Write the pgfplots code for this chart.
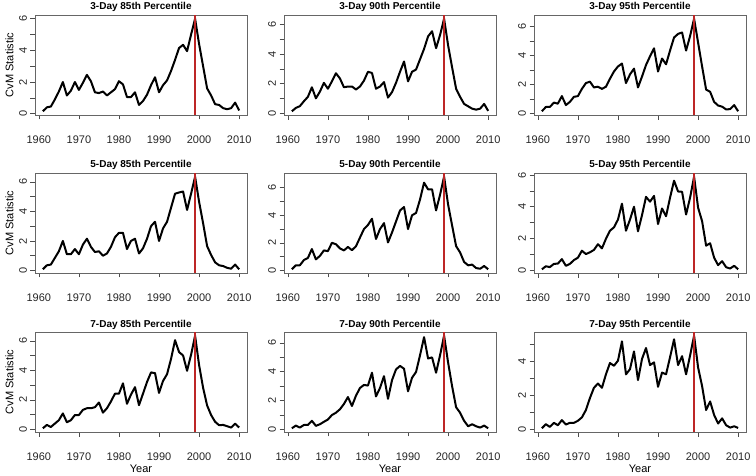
\documentclass[border=0pt]{standalone}
\usepackage{pgfplots}
\usepackage{pgfplotstable}
\pgfplotsset{compat=1.18}
\usepackage{fontspec}
\setmainfont{Liberation Sans}
\definecolor{cpred}{rgb}{0.74,0.15,0.15}

\pgfplotstableread{
year p85 p90 p95
1961 0.15 0.12 0.15
1962 0.40 0.35 0.45
1963 0.45 0.47 0.45
1964 0.90 0.80 0.75
1965 1.40 1.10 0.68
1966 2.00 1.75 1.20
1967 1.15 1.00 0.58
1968 1.45 1.45 0.80
1969 2.00 2.05 1.15
1970 1.50 1.65 1.20
1971 1.95 2.15 1.70
1972 2.45 2.70 2.10
1973 2.05 2.35 2.20
1974 1.35 1.75 1.80
1975 1.30 1.80 1.85
1976 1.40 1.80 1.70
1977 1.15 1.60 1.85
1978 1.35 1.80 2.40
1979 1.55 2.20 2.90
1980 2.05 2.80 3.25
1981 1.85 2.72 3.45
1982 1.05 1.65 2.10
1983 1.05 1.80 2.70
1984 1.35 2.10 3.10
1985 0.55 1.05 1.80
1986 0.80 1.42 2.55
1987 1.20 2.05 3.35
1988 1.80 2.80 3.95
1989 2.30 3.50 4.50
1990 1.35 2.15 2.90
1991 1.80 2.80 3.80
1992 2.10 2.95 3.40
1993 2.70 3.65 4.35
1994 3.40 4.35 5.25
1995 4.15 5.20 5.50
1996 4.35 5.55 5.60
1997 3.95 4.40 4.35
1998 5.00 5.30 5.35
1999 6.00 6.40 6.55
2000 4.40 4.60 4.90
2001 3.00 3.10 3.25
2002 1.60 1.65 1.65
2003 1.15 1.10 1.50
2004 0.60 0.62 0.80
2005 0.55 0.46 0.55
2006 0.35 0.30 0.47
2007 0.28 0.23 0.28
2008 0.35 0.30 0.30
2009 0.70 0.62 0.58
2010 0.20 0.15 0.15
}\threeday

\pgfplotstableread{
year p85 p90 p95
1961 0.08 0.08 0.06
1962 0.35 0.37 0.25
1963 0.40 0.37 0.20
1964 0.85 0.75 0.40
1965 1.30 0.90 0.42
1966 2.00 1.55 0.70
1967 1.10 0.80 0.28
1968 1.10 1.05 0.40
1969 1.45 1.45 0.64
1970 1.10 1.40 0.79
1971 1.75 2.00 1.23
1972 2.15 1.90 1.02
1973 1.60 1.60 1.13
1974 1.25 1.45 1.28
1975 1.30 1.70 1.64
1976 1.00 1.47 1.38
1977 1.15 1.75 1.98
1978 1.60 2.38 2.49
1979 2.25 3.00 2.70
1980 2.55 3.30 3.19
1981 2.55 3.75 4.19
1982 1.45 2.28 2.49
1983 2.00 3.00 3.19
1984 2.15 3.43 4.00
1985 1.15 2.03 2.45
1986 1.50 2.75 3.47
1987 2.15 3.55 4.62
1988 3.00 4.35 4.32
1989 3.30 4.60 4.68
1990 2.00 3.00 2.91
1991 2.85 4.00 3.89
1992 3.30 4.17 3.40
1993 4.25 5.15 4.57
1994 5.20 6.37 5.64
1995 5.28 5.88 4.96
1996 5.35 5.88 4.94
1997 4.10 4.35 3.51
1998 5.20 5.50 4.57
1999 6.35 6.80 5.89
2000 4.65 4.78 3.94
2001 3.20 3.26 3.09
2002 1.65 1.76 1.55
2003 1.05 1.30 1.70
2004 0.55 0.61 0.79
2005 0.35 0.37 0.32
2006 0.30 0.42 0.57
2007 0.18 0.17 0.19
2008 0.12 0.12 0.11
2009 0.40 0.32 0.28
2010 0.08 0.08 0.06
}\fiveday

\pgfplotstableread{
year p85 p90 p95
1961 0.07 0.07 0.08
1962 0.30 0.26 0.32
1963 0.16 0.12 0.16
1964 0.39 0.30 0.40
1965 0.62 0.30 0.26
1966 1.08 0.59 0.56
1967 0.48 0.24 0.30
1968 0.62 0.35 0.40
1969 0.97 0.52 0.40
1970 0.97 0.68 0.52
1971 1.32 0.99 0.72
1972 1.43 1.15 1.15
1973 1.43 1.39 1.85
1974 1.50 1.76 2.45
1975 1.82 2.24 2.70
1976 1.13 1.62 2.45
1977 1.43 2.33 3.24
1978 1.89 2.87 3.90
1979 2.42 3.08 3.74
1980 2.42 3.04 4.04
1981 3.12 3.93 5.17
1982 1.73 2.28 3.24
1983 2.36 2.87 3.54
1984 2.86 3.69 4.58
1985 1.64 2.12 2.90
1986 2.42 3.41 4.14
1987 3.21 4.16 4.78
1988 3.86 4.40 3.78
1989 3.81 4.21 3.94
1990 2.47 2.64 2.51
1991 3.28 3.58 3.34
1992 3.74 3.98 3.24
1993 4.78 5.15 4.24
1994 6.05 6.40 5.29
1995 5.24 4.92 3.78
1996 5.01 4.99 4.30
1997 3.97 3.93 3.24
1998 5.06 5.15 4.34
1999 6.35 6.50 5.50
2000 4.36 4.64 3.64
2001 2.82 2.99 2.55
2002 1.62 1.53 1.15
2003 0.97 1.15 1.65
2004 0.51 0.59 0.86
2005 0.28 0.21 0.36
2006 0.30 0.35 0.66
2007 0.21 0.21 0.26
2008 0.12 0.12 0.12
2009 0.39 0.26 0.20
2010 0.12 0.07 0.10
}\sevenday

\pgfplotsset{
  panel/.style={
    scale only axis, width=212pt, height=100pt, anchor=north west,
    enlarge x limits=0.04, enlarge y limits=0.04,
    xtick={1960,1970,...,2010},
    ytick={0,2,4,6}, minor ytick={1,3,5},
    tick align=outside,
    major tick length=4.5pt, minor tick length=4.5pt,
    xtick pos=bottom, ytick pos=left,
    every tick/.style={black!70, line width=0.6pt},
    every minor tick/.style={black!70, line width=0.6pt},
    axis line style={black!60, line width=0.6pt},
    tick label style={font=\fontsize{11}{13}\selectfont, black!85},
    /pgf/number format/assume math mode=true,
    every x tick label/.style={anchor=center, yshift=-20.5pt, /pgf/number format/1000 sep=},
    yticklabel style={rotate=90, anchor=south},
    title style={font=\bfseries\fontsize{10}{12}\selectfont, at={(0.5,1)}, anchor=base, yshift=-1pt},
    every axis y label/.style={at={(axis description cs:-0.12,0.5)}, anchor=center, rotate=90, font=\fontsize{11}{13}\selectfont},
    every axis x label/.style={at={(axis description cs:0.5,-0.365)}, anchor=center, font=\fontsize{11}{13}\selectfont},
  },
  cvm/.style={black, line width=2pt, line join=round, no marks},
}
\newcommand{\redline}{\draw[cpred, line width=2pt] ({axis cs:1999,0}|-{rel axis cs:0,0}) -- ({axis cs:1999,0}|-{rel axis cs:0,1});}

\begin{document}
\begin{tikzpicture}
\useasboundingbox (0pt,0pt) rectangle (756pt,-476pt);
% Row 1
\begin{axis}[panel, at={(35pt,-15pt)}, title={3-Day 85th Percentile}, ylabel={CvM Statistic}]
\addplot[cvm] table[x=year, y=p85] {\threeday};
\redline
\end{axis}
\begin{axis}[panel, at={(284pt,-15pt)}, title={3-Day 90th Percentile}]
\addplot[cvm] table[x=year, y=p90] {\threeday};
\redline
\end{axis}
\begin{axis}[panel, at={(534pt,-15pt)}, title={3-Day 95th Percentile}]
\addplot[cvm] table[x=year, y=p95] {\threeday};
\redline
\end{axis}
% Row 2
\begin{axis}[panel, at={(35pt,-173pt)}, title={5-Day 85th Percentile}, ylabel={CvM Statistic}]
\addplot[cvm] table[x=year, y=p85] {\fiveday};
\redline
\end{axis}
\begin{axis}[panel, at={(284pt,-173pt)}, title={5-Day 90th Percentile}]
\addplot[cvm] table[x=year, y=p90] {\fiveday};
\redline
\end{axis}
\begin{axis}[panel, at={(534pt,-173pt)}, title={5-Day 95th Percentile}]
\addplot[cvm] table[x=year, y=p95] {\fiveday};
\redline
\end{axis}
% Row 3
\begin{axis}[panel, at={(35pt,-332pt)}, title={7-Day 85th Percentile}, ylabel={CvM Statistic}, xlabel={Year}]
\addplot[cvm] table[x=year, y=p85] {\sevenday};
\redline
\end{axis}
\begin{axis}[panel, at={(284pt,-332pt)}, title={7-Day 90th Percentile}, xlabel={Year}]
\addplot[cvm] table[x=year, y=p90] {\sevenday};
\redline
\end{axis}
\begin{axis}[panel, at={(534pt,-332pt)}, title={7-Day 95th Percentile}, xlabel={Year}]
\addplot[cvm] table[x=year, y=p95] {\sevenday};
\redline
\end{axis}
\end{tikzpicture}
\end{document}
